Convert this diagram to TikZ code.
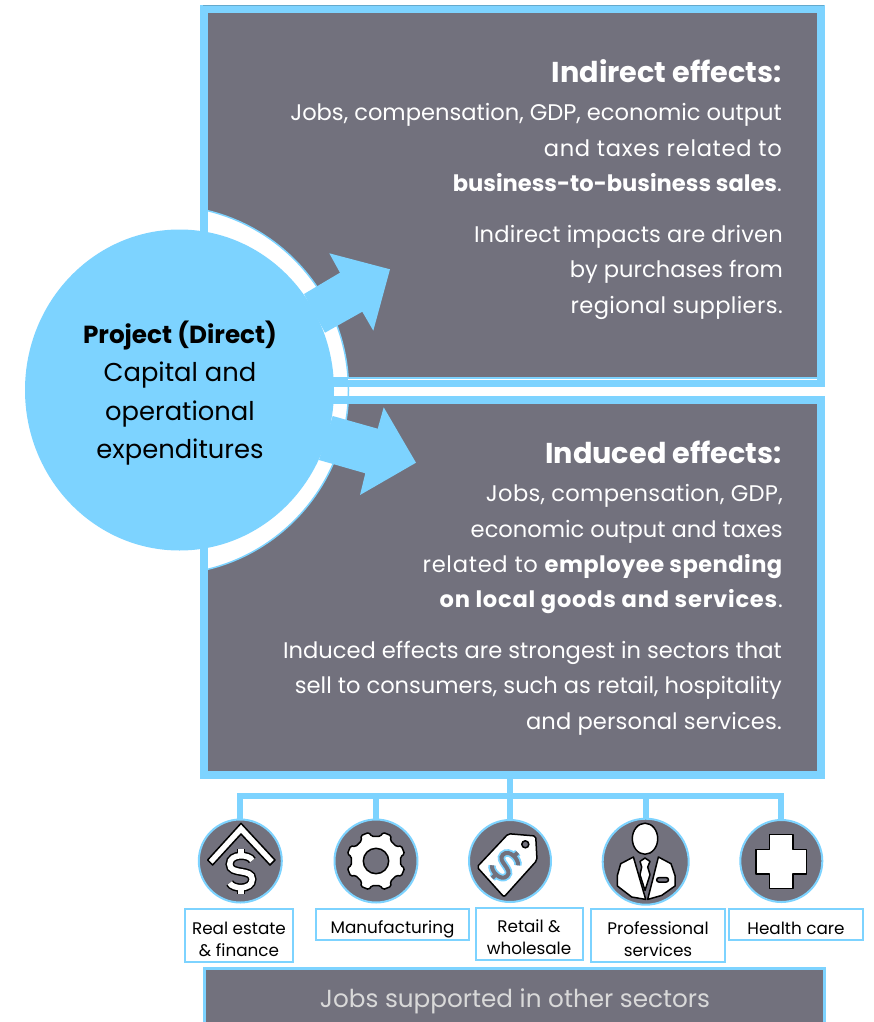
\documentclass[tikz,border=0pt]{standalone}
\usepackage{fontspec}
\setmainfont{Poppins}
\usetikzlibrary{shapes.geometric}

\definecolor{skyline}{HTML}{7DD3FF}
\definecolor{slatefill}{HTML}{72717D}
\definecolor{paletext}{HTML}{D9D9D9}

\tikzset{
  effectbox/.style={draw=skyline,fill=slatefill,line width=8pt,minimum width=617pt,inner sep=0},
  effecttitle/.style={anchor=east,text=white,inner sep=0,font=\fontsize{28.7}{34}\selectfont\bfseries},
  effecttext/.style={anchor=north east,align=right,text=white,inner sep=0,font=\fontsize{22.6}{35.3}\selectfont},
  iconcircle/.style={circle,draw=skyline,fill=slatefill,line width=2pt,inner sep=0},
  iconpart/.style={draw=black,fill=white,line width=1.5pt,line join=round},
  sectorbox/.style={draw=skyline,fill=white,line width=2pt,inner sep=0},
  sectortext/.style={inner sep=0,align=center,font=\fontsize{16.8}{22}\selectfont},
  bus/.style={draw=skyline,line width=6pt},
  spreadarrow/.style={fill=skyline}
}
\newcommand{\tracked}[2]{{\addfontfeature{LetterSpace=#1}#2}}
\newcommand{\dollarsign}[1]{%
  \draw[#1] (9,-9) .. controls (7,-14) and (-9,-15) .. (-9,-6) .. controls (-9,3) and (9,-3) .. (9,6) .. controls (9,15) and (-7,14) .. (-9,9);
  \draw[#1] (0,-18) -- (0,-14);
  \draw[#1] (0,14) -- (0,18);
}

\begin{document}
\begin{tikzpicture}[x=1pt,y=-1pt]
  \clip (0,0) rectangle (874,1022);

  % Cajas
  \node[effectbox,minimum height=374pt] (indirect) at (512.5,196) {};
  \node[effectbox,minimum height=375pt] (induced) at (512.5,587.5) {};
  \draw[skyline!80!black,line width=0.8pt] (203,5) -- (824,5);

  % Anillo
  \begin{scope}
    \clip (208,200) rectangle (400,580);
    \draw[skyline,fill=white,line width=1.5pt] (164,390) circle (184.5);
  \end{scope}
  \fill[skyline] (330,377) rectangle (817,387);
  \fill[skyline] (330,396) rectangle (360,404);
  \draw[white,line width=1pt] (348,379.5) -- (817,379.5);

  % Flechas
  \fill[spreadarrow] (325,332.7) -- (362.3,311.7) -- (373.3,330.7) -- (390,269.3) -- (329.3,253.3) -- (340,272.7) -- (304,294) -- cycle;
  \fill[spreadarrow] (332.7,416) -- (377.7,428.7) -- (383.7,407.3) -- (416,462.7) -- (360,495) -- (365.3,473.3) -- (319,460) -- cycle;

  % Circulo
  \node[ellipse,fill=skyline,minimum width=309pt,minimum height=321pt,inner sep=0] (project) at (179.5,390) {};
  \node[align=center,inner sep=0,font=\fontsize{25.8}{38.3}\selectfont] (projecttext) at (180,393)
    {{\fontsize{24.7}{38.3}\selectfont\bfseries Project (Direct)}\\Capital and\\operational\\expenditures};

  % Textos
  \node[effecttitle] (indirecttitle) at (782,71.5) {Indirect effects:};
  \node[effecttext] (indirectjobs) at (782,103.5) {Jobs, compensation, GDP, economic output\\\tracked{3.1}{and taxes related to}\\\textbf{business-to-business sales}.};
  \node[effecttext] (indirectdriven) at (783,225) {\tracked{0.8}{Indirect impacts are driven}\\by purchases from\\\tracked{1.6}{regional suppliers.}};
  \node[effecttitle] (inducedtitle) at (782,452.5) {Induced effects:};
  \node[effecttext] (inducedjobs) at (783,484.5) {\tracked{1.3}{Jobs, compensation, GDP,}\\economic output and taxes\\\tracked{3.2}{related to} \tracked{2}{\textbf{employee spending}}\\\tracked{3.4}{\textbf{on local goods and services}}.};
  \node[effecttext] (inducedsectors) at (782,641) {Induced effects are strongest in sectors that\\sell to consumers, such as retail, hospitality\\\tracked{0.6}{and personal services.}};

  % Iconos
  \node[iconcircle,minimum size=83pt] (iconestate) at (240.3,861) {};
  \node[iconcircle,minimum size=83pt] (icongear) at (376,861) {};
  \node[iconcircle,minimum size=82pt] (icontag) at (510,861) {};
  \node[iconcircle,minimum size=86pt] (iconsuit) at (645.7,861.7) {};
  \node[iconcircle,minimum size=82pt] (iconcross) at (781.3,861) {};

  % Conectores
  \coordinate (busjoin) at (510,796);
  \coordinate (trunk) at (510,778);
  \draw[bus] (trunk) -- (busjoin);
  \foreach \icon in {estate,gear,tag,suit,cross}
    \draw[bus] (busjoin) -| (icon\icon.north);

  % Casa
  \begin{scope}[shift={(240.3,861)}]
    \draw[iconpart] (0.7,-37.7) -- (34.7,-1) -- (29.7,4) -- (0.7,-27) -- (-27.7,4) -- (-32.7,-1) -- cycle;
    \begin{scope}[shift={(0.7,10.7)},scale=1.25]
      \dollarsign{black,line width=8.5pt,line cap=butt}
      \dollarsign{white,line width=5.5pt,line cap=butt}
    \end{scope}
  \end{scope}

  % Engrane
  \begin{scope}[shift={(376,861)}]
    \draw[iconpart,rounded corners=1.5pt] (10:25) foreach \a in {0,45,...,315} { -- (\a+10:25) -- (\a+14:29.5) -- (\a+31:29.5) -- (\a+35:25) } -- cycle;
    \draw[iconpart,fill=slatefill] (0,0) circle (12.7);
  \end{scope}

  % Etiqueta
  \begin{scope}[shift={(510,861)}]
    \draw[iconpart,rounded corners=2pt] (-1.7,-27.3) -- (25.7,-25) -- (27,-0.7) -- (-6,36) -- (-33,6) -- cycle;
    \draw[iconpart,fill=slatefill] (15.3,-16.7) circle (3.5);
    \begin{scope}[shift={(-5,4.3)},rotate=-45]
      \dollarsign{skyline,line width=7.5pt,line cap=butt}
      \dollarsign{slatefill,line width=4pt,line cap=butt}
    \end{scope}
  \end{scope}

  % Persona
  \begin{scope}[shift={(645.7,861.7)}]
    \draw[iconpart] (-0.7,-23) ellipse (12.7 and 15.5);
    \draw[iconpart] (-25,2) -- (-12.3,-4.7) -- (0,37.7) -- (-14,35.3) -- (-28.3,24.3) -- (-28.3,13.7) -- cycle;
    \draw[iconpart] (12.7,-4.7) -- (25.3,2) -- (29.3,13.7) -- (29.3,24.3) -- (16,33.7) -- (2,37.7) -- cycle;
    \draw[iconpart] (-5.7,-0.3) -- (-0.7,-3.7) -- (4.3,-0.3) -- (2,5.3) -- (4.3,13) -- (-0.7,28.7) -- (-5.7,13) -- (-4,5.3) -- cycle;
    \draw[iconpart,fill=slatefill,rounded corners=2pt] (11,16) rectangle (22.7,20.3);
  \end{scope}

  % Cruz
  \begin{scope}[shift={(781.3,861)}]
    \draw[iconpart] (-12,-26.7) -- (11.5,-26.7) -- (11.5,-11.7) -- (25.3,-11.7) -- (25.3,13) -- (11.5,13) -- (11.5,27.3) -- (-12,27.3) -- (-12,13) -- (-25.3,13) -- (-25.3,-11.7) -- (-12,-11.7) -- cycle;
  \end{scope}

  % Sectores
  \node[sectorbox,minimum width=108pt,minimum height=52.5pt] (estatebox) at (239,935.5) {};
  \node[sectorbox,minimum width=153pt,minimum height=30.5pt] (gearbox) at (392.5,924.5) {};
  \node[sectorbox,minimum width=107pt,minimum height=52pt] (tagbox) at (529,934) {};
  \node[sectorbox,minimum width=134pt,minimum height=52.5pt] (suitbox) at (658,935.5) {};
  \node[sectorbox,minimum width=134pt,minimum height=30.5pt] (crossbox) at (796,924.5) {};
  \node[sectortext] (estatelabel) at (239,939.5) {Real estate\\\& finance};
  \node[sectortext] (gearlabel) at (392.5,929.5) {Manufacturing};
  \node[sectortext] (taglabel) at (529,937) {Retail \&\\wholesale};
  \node[sectortext] (suitlabel) at (658,939.5) {Professional\\services};
  \node[sectortext] (crosslabel) at (796,928.5) {Health care};

  % Otros sectores
  \node[draw=skyline,fill=slatefill,line width=3pt,minimum width=620pt,minimum height=70pt,inner sep=0] (otherbox) at (514.5,1003.5) {};
  \node[text=paletext,inner sep=0,font=\fontsize{24.7}{28}\selectfont] (otherlabel) at (515,1001) {Jobs supported in other sectors};
\end{tikzpicture}
\end{document}
